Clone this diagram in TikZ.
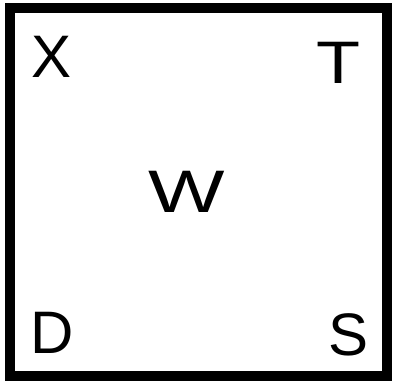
\documentclass[tikz,border=0pt]{standalone}
\usepackage{fontspec}
\setmainfont{Liberation Sans}
\usepackage{tikz}
\usetikzlibrary{positioning}

\begin{document}
\begin{tikzpicture}[x=1pt,y=1pt,
  frame/.style={draw=black,line width=10pt},
  letter/.style={font=\fontsize{60}{60}\selectfont,inner sep=0pt,anchor=center}]

\useasboundingbox (0,0) rectangle (393,381);

% ---------------- square ---------------------------------------------------
\draw[frame] (10,5) rectangle (387,373);

% ---------------- corner letters and centre --------------------------------
\node[letter] (x) at (52,324) {X};
\node[letter] (t) at (338,318) {\scalebox{1.2}[1]{T}};
\node[letter] (w) at (187,189) {\scalebox{1.35}[1]{W}};
\node[letter] (d) at (52,48) {D};
\node[letter] (s) at (349,46) {S};

\end{tikzpicture}
\end{document}
